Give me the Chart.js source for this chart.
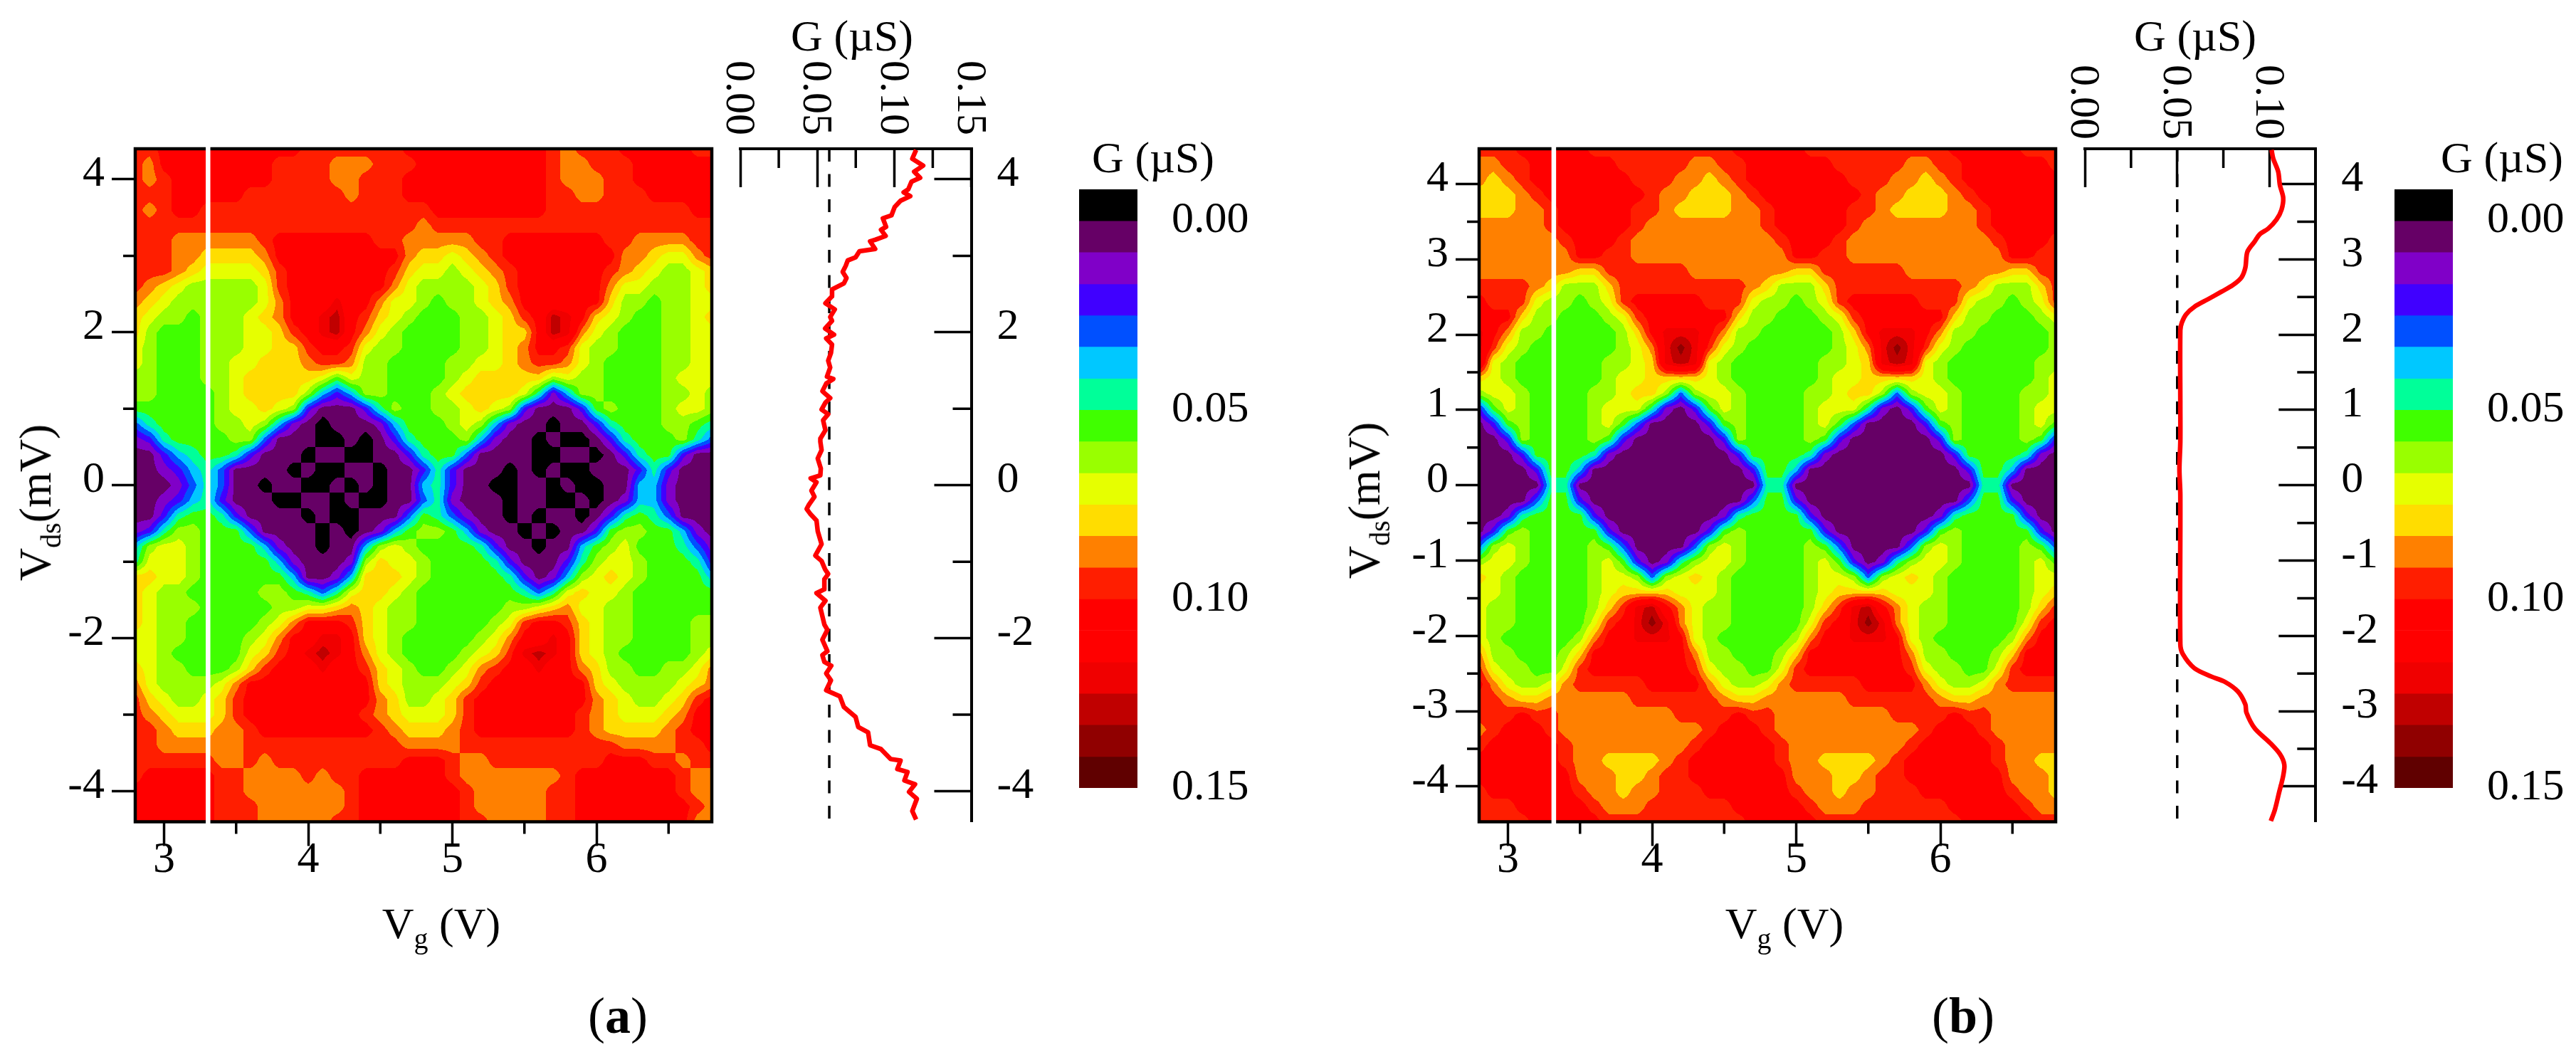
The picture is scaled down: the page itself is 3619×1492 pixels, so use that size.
<!DOCTYPE html>
<html>
<head>
<meta charset="utf-8">
<title>Vds-Vg conductance maps</title>
<script src="https://cdn.jsdelivr.net/npm/chart.js@4/dist/chart.umd.min.js"></script>
<style>
  html, body { margin: 0; padding: 0; background: #fff; }
  #page { position: relative; width: 3619px; height: 1492px; overflow: hidden; }
  canvas { position: absolute; }
  .txt { position: absolute; font-family: "Liberation Serif", serif; font-size: 62px; line-height: 1; white-space: nowrap; color: #000; transform: translateX(-50%); }
  .rot { font-size: 64px; transform: translate(-50%, -50%) rotate(-90deg); }
  .txt sub { font-size: 40px; line-height: 0; vertical-align: -14px; }
  .tag { font-size: 72px; }
</style>
</head>
<body>
<div id="page"></div>
<script>
// conductance level at each node, one char per node, base 36 index into levelColors
// rows run from top (+Vds) to bottom (-Vds), columns from Vg = 2.8 to 6.8 in 0.1 V steps
const measuredRows = [
  "CCDDDDDDDDDDCCCCCCCDDDDDDDDDDCBCCCDDDDDCC",
  "CBDDDDDDDDCCCCBBBCCCDDDDDDDDDCBBCCCDDDDDD",
  "CBCDDDDDDDCCCCBBCCCDDDDDDDDDDCBBBCCDDDDDD",
  "CCCDDDDDCCCCCCCBCCCDDDDDDDDDDCCBBCCCDDDDD",
  "CBCDDCCCCCCCCCCCCCCCCDDDDDDDDCCCCCCCCCCDD",
  "CCCCCCCCCCCCCCCCCCCCBCCCCCCCCCCCCCCCCCCCC",
  "CCCBBBBBBCDDDDDDDCCBBBBBCCDDDDDDDCCBBBBCC",
  "CCCBBAAAABDDDDDDDDDBAA9ABCDDDDDDDDBBA99BC",
  "CCCBA9999ACDDDDDDDCA9989ABCDDDDDDCBA9889A",
  "CBA9888889CDDDDDDDB988889ACDDDDDDB998889A",
  "BA98888889BDDDFDDB9987889ABDDDDDDA8878899",
  "A98878889ABDDFGDCA98777889ACDGFDA9877889A",
  "A877788899ACDFGDB987777889AADGFB987778899",
  "9877788899AACDDC9887777889ABDDC9887778899",
  "987778899AAABCCB8877778899ABCCB9877778899",
  "88777889AAAAA97988777789AAAAA898877778999",
  "88777789AAAA85358877789AAAA96258877778898",
  "777777899A98311136877889A9831113787778998",
  "467777 8898 52 10111 25 777 898 52 11011 36 777 8876",
  "236 7777 88 4 11100101 36 777 852 1101001 36 777 8 64",
  "11356 77 63 1110110011 36774 1111001101 3677 311",
  "11235 64 1111010011011 363 111010100111 363 111",
  "111 2 4 6 4 1101100101011 56 3 110011010011 55 2 111",
  "1123563 1110011010011 46 2 11101100101 2552111",
  "11367 763 11110100111 4764 2 110101101 36764 111",
  "23688 777 4 11110101 25 788 75 2 1101011 3 788 77 521",
  "58998 7777 5 2 11 0 11 5898 7777 63 11011 5789777642",
  "6999877777 52 111 2 8A 99 8 7777 63 111 36 8998 777 63",
  "AA998 777777 5 11 2 5 AAA 98 77777 63 12 58 9A98 7777 5",
  "A988 77777 88 7646 9 AA 98 7777777 646 9A998 777777",
  "A9888 77777 8899 ABA988 777777 889 AB 99 88 777777",
  "A9887 7777 8 9B DDDCA 988 77777 89 C DDC A988 7777 88",
  "99887777 8 9 B DDFFD A98 77777 89 B DDFD A988 7777 88",
  "99877777 9A C DFGFD B98 7777 89AC FGFD A98 77777 89",
  "A9887778 AC DDDFDD CA98 77 89 BC DDFDD B A 88 77 88 9B",
  "B98888 9 B DDDDDDDDD A9 888 9A C DDDDDDD A9 8888 9AB",
  "CA988 9A C DDDDDDDDD BA 88 9A C DDDDDDDD BA9 88 9A CD",
  "CBA999 A C DDDDDDDD C BA 999 A C DDDDDDD C B A 999 AB DD",
  "CCB AAA BB C DDDDDDDD CB AAA BC DDDDDDD CB AAAA BC DD",
  "CC BBBBBB CCCCCCCCCCC BBBB CCCCCCCCCCC BBBB CC D",
  "CCCCCC BB C B CCCCCCCCC DDD C BB CCCCCCCC DDD CC B CC",
  "CDDDDDCC BBBB CBCC DDDDDD C BBBBBBB C DDDDDDD CBB",
  "DDDDDD CC BBBBBBB C DDDDDDD C BBBBB CC DDDDDDD CBB",
  "DDDDDD CCC BBBBBB C DDDDDDD C BBBBB CC DDDDDDDD CB",
  "DDDDDD CCC BBBBB CC DDDDDDD CC BBBB CC DDDDDDDD BB"
];
const modelRows = [
  "CCCDDDD DCCCCCCCCCCDDDD DCCCCCCCCCCDDDD DCCC",
  "BBCCDDD DDDCCCCCBBCCDDD DDDCCCCCBBCCDDD DDDC",
  "BABCDDD DDDDCCCBBABCDDD DDDDCCCBBABCDDD DDDD",
  "AAABCDD DDDDDCBBAAABCDD DDDDDCBBAAABCDD DDDD",
  "AAABBCD DDDDCCBAAAABBCD DDDDCCBAAAABBCD DDDD",
  "BBBBBCD DDDDCBBBBBBBBCD DDDDCBBBBBBBBCD DDDD",
  "BBBBBBC DDDCBBBBBBBBBBC DDDCBBBBBBBBBBC DDDC",
  "BBBBBBB DDCCBBBBBBBBBBB DDCCBBBBBBBBBBB DDCC",
  "BBBBBBB AACCCCCCBBBBBBB AACCCCCCBBBBBBB AACC",
  "CCCCBA8 88ACCCCCCCCCBA8 88ACCCCCCCCCBA8 88AC",
  "DCCC988 789CDDDDDCCC988 789CDDDDDCCC988 789C",
  "DDDA887 7789CDDDDDDA887 7789CDDDDDDA887 7789",
  "FDB8877 7778ADFFFDB8877 7778ADFFFDB8877 7778",
  "FC98777 77789BFHFC98777 77789BFHFC98777 7778",
  "F987777 77889AFGF987777 77889AFGF987777 7788",
  "A987777 77899AAAA987777 77899AAAA987777 7789",
  "8998777 7889AA848998777 7889AA848998777 7889",
  "3798777 789996213798777 789996213798777 7899",
  "1378777 789741111378777 789741111378777 7897",
  "1138777 787311111138777 787311111138777 7873",
  "1113777 762111111113777 762111111113777 7621",
  "1111377 511111111111377 511111111111377 5111",
  "1111166 111111111111166 111111111111166 1111",
  "1111477 311111111111477 311111111111477 3111",
  "1126777 731111111126777 731111111126777 7311",
  "1378777 773111111378777 773111111378777 7731",
  "4898777 787411114898777 787411114898777 7874",
  "8998777 789731268998777 789731268998777 7897",
  "A987777 78998489A987777 78998489A987777 7899",
  "9987777 789AAAA99987777 789AAAA99987777 789A",
  "9887777 78ACFGDB9887777 78ACFGDB9887777 78AC",
  "9887777 79CDFHFB9887777 79CDFHFB9887777 79CD",
  "9877777 8BDDFFFD9877777 8BDDFFFD9877777 8BDD",
  "B887778 ADDDDDDDB887778 ADDDDDDDB887778 ADDD",
  "C988779 CDDDDDDDC988779 CDDDDDDDC988779 CDDD",
  "DB9889B CCCCCDDDDB9889B CCCCCDDDDB9889B CCCC",
  "CCBAABB BBBBCCCCCCBAABB BBBBCCCCCCBAABB BBBB",
  "CCCDCCB BBBBBBBCCCCDCCB BBBBBBBCCCCDCCB BBBB",
  "BCDDDCB BBBBBBBBBCDDDCB BBBBBBBBBCDDDCB BBBB",
  "CDDDDDC BBBBBBBBCDDDDDC BBBBBBBBCDDDDDC BBBB",
  "DDDDDDC BBAAAABCDDDDDDC BBAAAABCDDDDDDC BBAA",
  "DDDDDDD BBBAABCCDDDDDDD BBBAABCCDDDDDDD BBBA",
  "CDDDDDD CBBABBCCCDDDDDD CBBABBCCCDDDDDD CBBA",
  "CCCDDDD DCBBBCCCCCCDDDD DCBBBCCCCCCDDDD DCBB",
  "CCCCDDD DDCCCCCCCCCCDDD DDCCCCCCCCCCDDD DDCC"
];

const levelColors = ["#000000", "#660066", "#8000C8", "#4000FF", "#0050FF", "#00C8FF", "#00FF99", "#40FF00", "#99FF00", "#E6FF00",
  "#FFDD00", "#FF8000", "#FF1E00", "#FF0000", "#FF0000", "#F00000", "#C00000", "#900000", "#600000"];
const levelEdges = [-0.0083, 0, 0.0083, 0.0167, 0.025, 0.0333, 0.0417, 0.05, 0.0583, 0.0667, 0.075, 0.0833, 0.0917, 0.1,
  0.1083, 0.1167, 0.125, 0.1333, 0.1417, 0.15];
const levelTicks = [0, 0.05, 0.1, 0.15];

const vgMajor = [3, 4, 5, 6];
const vgMinor = [3.5, 4.5, 5.5, 6.5];
const vdsMajorA = [-4, -2, 0, 2, 4];
const vdsMinorA = [-3, -1, 1, 3];
const vdsMajorB = [-4, -3, -2, -1, 0, 1, 2, 3, 4];
const vdsMinorB = [-3.5, -2.5, -1.5, -0.5, 0.5, 1.5, 2.5, 3.5];
const gMajorA = [0, 0.05, 0.1, 0.15];
const gMinorA = [0.025, 0.075, 0.125];
const gMajorB = [0, 0.05, 0.1];
const gMinorB = [0.025, 0.075];

// line cuts at the white marker
const vCutA = [4.385, 4.27, 4.18, 4.1, 4.02, 3.97, 3.87, 3.83, 3.78, 3.72, 3.64, 3.53, 3.49, 3.38, 3.34, 3.26, 3.21, 3.19, 3.09, 3.06,
  2.98, 2.94, 2.87, 2.79, 2.71, 2.64, 2.56, 2.47, 2.38, 2.3, 2.2, 2.15, 2.05, 1.97, 1.92, 1.84, 1.73, 1.63, 1.54, 1.42,
  1.39, 1.33, 1.23, 1.14, 1.08, 0.99, 0.93, 0.85, 0.72, 0.61, 0.57, 0.46, 0.35, 0.22, 0.13, 0.09, 0.04, -0.07, -0.15, -0.26,
  -0.31, -0.38, -0.46, -0.6, -0.77, -0.92, -0.99, -1.1, -1.16, -1.23, -1.36, -1.41, -1.51, -1.6, -1.82, -1.89, -2.02, -2.17, -2.22, -2.31,
  -2.36, -2.46, -2.55, -2.68, -2.76, -2.9, -3.03, -3.16, -3.23, -3.4, -3.45, -3.58, -3.6, -3.71, -3.75, -3.86, -3.91, -4.01, -4.1, -4.26, -4.37];
const gCutA = [0.1142, 0.1117, 0.1188, 0.1129, 0.1168, 0.1112, 0.1091, 0.1061, 0.1104, 0.1041, 0.1003, 0.0982, 0.0926, 0.0947, 0.0914, 0.0944, 0.0876, 0.0843, 0.0876, 0.0774,
  0.0749, 0.0698, 0.0685, 0.0665, 0.069, 0.0673, 0.0596, 0.0596, 0.0553, 0.0614, 0.0584, 0.0596, 0.0551, 0.0609, 0.0558, 0.0596, 0.0589, 0.0571, 0.0584, 0.0563,
  0.0604, 0.0558, 0.0533, 0.0584, 0.0553, 0.0528, 0.0571, 0.0538, 0.0553, 0.052, 0.052, 0.0528, 0.0503, 0.0523, 0.052, 0.0457, 0.0495, 0.0462, 0.0482, 0.0444,
  0.0431, 0.0457, 0.0495, 0.0503, 0.0528, 0.0487, 0.0528, 0.0551, 0.0571, 0.0546, 0.0546, 0.0495, 0.0553, 0.052, 0.0546, 0.0566, 0.0533, 0.0566, 0.0533, 0.0546,
  0.0591, 0.0558, 0.0589, 0.0558, 0.0647, 0.0673, 0.0749, 0.0766, 0.083, 0.0843, 0.0914, 0.0977, 0.1041, 0.102, 0.1086, 0.1066, 0.1135, 0.1096, 0.1147, 0.1117, 0.1142];
const vCutB = [4.454, 4.34, 4.165, 3.99, 3.82, 3.66, 3.53, 3.41, 3.335, 3.24, 3.1, 2.89, 2.76, 2.66, 2.57, 2.47, 2.37, 2.27, 2.16, 2.06,
  1.04, 0.58, 0.21, -0.13, -2.11, -2.24, -2.43, -2.54, -2.61, -2.74, -2.91, -3.02, -3.23, -3.42, -3.57, -3.71, -3.86, -4.09, -4.31, -4.46];
const gCutB = [0.1011, 0.102, 0.1047, 0.1056, 0.1074, 0.1065, 0.1038, 0.0993, 0.0947, 0.092, 0.088, 0.0869, 0.0848, 0.0802, 0.0739, 0.0666, 0.0593, 0.0548, 0.0525, 0.0517,
  0.0517, 0.0517, 0.0512, 0.0517, 0.0517, 0.053, 0.0593, 0.0684, 0.0757, 0.0829, 0.0869, 0.0875, 0.092, 0.1002, 0.1056, 0.108, 0.1074, 0.1051, 0.1029, 0.1007];

const SERIF = '"Liberation Serif", serif';
const TICK_FONT = { family: SERIF, size: 62 };
const page = document.getElementById("page");

function addCanvas(left, top, width, height) {
  const c = document.createElement("canvas");
  c.width = width;
  c.height = height;
  c.style.left = left + "px";
  c.style.top = top + "px";
  page.appendChild(c);
  return c.getContext("2d");
}

function addText(html, x, y, cls) {
  const d = document.createElement("div");
  d.className = "txt " + (cls || "");
  d.style.left = x + "px";
  d.style.top = y + "px";
  d.innerHTML = html;
  page.appendChild(d);
}

function hexToRgb(hex) {
  return [parseInt(hex.slice(1, 3), 16), parseInt(hex.slice(3, 5), 16), parseInt(hex.slice(5, 7), 16)];
}

// fills the plot area with contour bands taken from the first dataset, then strokes the frame
const contourFill = {
  id: "contourFill",
  beforeDatasetsDraw(chart, args, opts) {
    const area = chart.chartArea, xs = chart.scales.x, ys = chart.scales.y;
    const pts = chart.data.datasets[0].data;
    const nc = opts.cols, nr = opts.rows;
    const w = Math.ceil(area.right - area.left), h = Math.ceil(area.bottom - area.top);
    const off = document.createElement("canvas");
    off.width = w;
    off.height = h;
    const octx = off.getContext("2d");
    const img = octx.createImageData(w, h);
    const rgb = levelColors.map(hexToRgb);
    for (let py = 0; py < h; py++) {
      const fr = (ys.max - ys.getValueForPixel(area.top + py + 0.5)) / (ys.max - ys.min) * (nr - 1);
      const r0 = Math.min(nr - 2, Math.max(0, Math.floor(fr))), tr = fr - r0;
      for (let px = 0; px < w; px++) {
        const fc = (xs.getValueForPixel(area.left + px + 0.5) - xs.min) / (xs.max - xs.min) * (nc - 1);
        const c0 = Math.min(nc - 2, Math.max(0, Math.floor(fc))), tc = fc - c0;
        const a = pts[r0 * nc + c0].v, b = pts[r0 * nc + c0 + 1].v;
        const c = pts[(r0 + 1) * nc + c0].v, d = pts[(r0 + 1) * nc + c0 + 1].v;
        const lv = (a * (1 - tc) + b * tc) * (1 - tr) + (c * (1 - tc) + d * tc) * tr;
        const col = rgb[Math.max(0, Math.min(18, Math.round(lv)))];
        const i = (py * w + px) * 4;
        img.data[i] = col[0];
        img.data[i + 1] = col[1];
        img.data[i + 2] = col[2];
        img.data[i + 3] = 255;
      }
    }
    octx.putImageData(img, 0, 0);
    const ctx = chart.ctx;
    ctx.save();
    ctx.drawImage(off, area.left, area.top, area.right - area.left, area.bottom - area.top);
    ctx.strokeStyle = "#000";
    ctx.lineWidth = 4.5;
    ctx.strokeRect(area.left, area.top, area.right - area.left, area.bottom - area.top);
    ctx.restore();
  }
};

// the short ticks: Chart.js only has one tick length per scale
const minorTicks = {
  id: "minorTicks",
  afterDraw(chart, args, opts) {
    const ctx = chart.ctx, area = chart.chartArea;
    ctx.save();
    ctx.strokeStyle = "#000";
    ctx.lineWidth = 3.5;
    ctx.beginPath();
    (opts.x || []).forEach(v => {
      const p = chart.scales.x.getPixelForValue(v);
      const edge = opts.xEdge === "top" ? area.top : area.bottom;
      ctx.moveTo(p, edge);
      ctx.lineTo(p, edge + opts.xLen);
    });
    (opts.y || []).forEach(v => {
      const p = chart.scales.y.getPixelForValue(v);
      const edge = opts.yEdge === "right" ? area.right : area.left;
      ctx.moveTo(edge, p);
      ctx.lineTo(edge - opts.yLen, p);
    });
    ctx.stroke();
    ctx.restore();
  }
};

// top axis labels of the cut panels read downwards, Chart.js would run them into the axis
const downLabels = {
  id: "downLabels",
  afterDraw(chart, args, opts) {
    const ctx = chart.ctx, xs = chart.scales.x;
    ctx.save();
    ctx.font = "60px " + SERIF;
    ctx.fillStyle = "#000";
    ctx.textAlign = "right";
    ctx.textBaseline = "middle";
    opts.values.forEach(v => {
      ctx.save();
      ctx.translate(xs.getPixelForValue(v) - 3, opts.end);
      ctx.rotate(Math.PI / 2);
      ctx.fillText(v.toFixed(2), 0, 0);
      ctx.restore();
    });
    ctx.restore();
  }
};

// axis size fixed by hand and no extra room for the outer tick labels, so the plot area lands where it should
function fixedSize(prop, val) {
  return s => {
    s[prop] = val;
    s.paddingTop = s.paddingBottom = s.paddingLeft = s.paddingRight = 0;
  };
}

function setTicks(values) {
  return s => { s.ticks = values.map(v => ({ value: v })); };
}

function drawMap(p) {
  const ctx = addCanvas(p.canvasLeft, 170, p.right + 15 - p.canvasLeft, 1130);
  const rows = p.rows.map(r => r.replace(/\s/g, ""));
  const nc = rows[0].length, nr = rows.length;
  const cells = [];
  rows.forEach((row, r) => {
    for (let c = 0; c < nc; c++) {
      cells.push({
        x: 2.8 + 4 * c / (nc - 1),
        y: p.vMax - 2 * p.vMax * r / (nr - 1),
        v: parseInt(row.charAt(c) || "D", 36)
      });
    }
  });
  new Chart(ctx, {
    type: "scatter",
    data: {
      datasets: [
        { label: "G (µS)", data: cells, pointRadius: 0, pointHoverRadius: 0 },
        {
          label: "cut",
          data: [{ x: p.cutVg, y: p.vMax + 0.06 }, { x: p.cutVg, y: -p.vMax - 0.06 }],
          showLine: true, borderColor: "#fff", borderWidth: 6.5, pointRadius: 0, clip: false
        }
      ]
    },
    plugins: [contourFill, minorTicks],
    options: {
      responsive: false,
      animation: false,
      events: [],
      layout: { padding: { top: 39, right: 15, left: 0, bottom: 0 } },
      plugins: {
        legend: { display: false },
        tooltip: { enabled: false },
        contourFill: { cols: nc, rows: nr },
        minorTicks: { x: vgMinor, xEdge: "bottom", xLen: 17, y: p.vMinor, yEdge: "left", yLen: 17 }
      },
      scales: {
        x: {
          type: "linear", min: 2.8, max: 6.8,
          afterBuildTicks: setTicks(vgMajor),
          afterFit: fixedSize("height", 145.5),
          grid: { drawOnChartArea: false, tickLength: 34, tickWidth: 3.5, tickColor: "#000" },
          border: { display: false },
          ticks: { font: TICK_FONT, color: "#000", padding: -17, maxRotation: 0, minRotation: 0, autoSkip: false, callback: v => String(v) }
        },
        y: {
          type: "linear", min: -p.vMax, max: p.vMax,
          afterBuildTicks: setTicks(p.vMajor),
          afterFit: fixedSize("width", p.left - p.canvasLeft),
          grid: { drawOnChartArea: false, tickLength: 33, tickWidth: 3.5, tickColor: "#000" },
          border: { display: false },
          ticks: { font: TICK_FONT, color: "#000", padding: 10, labelOffset: -7, autoSkip: false, callback: v => String(v) }
        }
      }
    }
  });
}

function drawCut(p) {
  const canvasLeft = p.left - 40, canvasWidth = p.right - canvasLeft + 195;
  const ctx = addCanvas(canvasLeft, 0, Math.ceil(canvasWidth), 1300);
  new Chart(ctx, {
    type: "scatter",
    data: {
      datasets: [
        {
          label: "G", data: p.g.map((g, i) => ({ x: g, y: p.v[i] })),
          showLine: true, borderColor: "#ff0000", borderWidth: 6.5, pointRadius: 0,
          tension: p.tension, borderJoinStyle: "round", clip: false
        },
        {
          label: "mean", data: [{ x: p.dash, y: p.vMax }, { x: p.dash, y: -p.vMax }],
          showLine: true, borderColor: "#000", borderWidth: 3.5, borderDash: [18, 17.5], pointRadius: 0
        }
      ]
    },
    plugins: [minorTicks, downLabels],
    options: {
      responsive: false,
      animation: false,
      events: [],
      layout: { padding: { left: 40, bottom: 145.5 } },
      plugins: {
        legend: { display: false },
        tooltip: { enabled: false },
        minorTicks: { x: p.gMinor, xEdge: "top", xLen: 27, y: p.vMinor, yEdge: "right", yLen: 26 },
        downLabels: { values: p.gMajor, end: p.labelEnd }
      },
      scales: {
        x: {
          type: "linear", position: "top", min: 0, max: p.gMax,
          afterBuildTicks: setTicks(p.gMajor),
          afterFit: fixedSize("height", 209),
          grid: { drawOnChartArea: false, tickLength: -54, tickWidth: 3.5, tickColor: "#000" },
          border: { display: true, color: "#000", width: 4 },
          ticks: { display: false }
        },
        y: {
          type: "linear", position: "right", min: -p.vMax, max: p.vMax,
          afterBuildTicks: setTicks(p.vMajor),
          afterFit: fixedSize("width", Math.ceil(canvasWidth) - (p.right - canvasLeft)),
          grid: { drawOnChartArea: false, tickLength: -52, tickWidth: 3.5, tickColor: "#000" },
          border: { display: true, color: "#000", width: 4 },
          ticks: { font: TICK_FONT, color: "#000", padding: 88, labelOffset: -7, autoSkip: false, callback: v => String(v) }
        }
      }
    }
  });
}

function drawBar(left) {
  const ctx = addCanvas(left, 220, 260, 930);
  new Chart(ctx, {
    type: "bar",
    data: {
      labels: ["G"],
      datasets: levelColors.map((c, i) => ({
        label: "level " + i,
        data: [[levelEdges[i], levelEdges[i + 1]]],
        backgroundColor: c,
        borderWidth: 0,
        barPercentage: 1,
        categoryPercentage: 1
      }))
    },
    options: {
      responsive: false,
      animation: false,
      events: [],
      layout: { padding: { top: 46, bottom: 43 } },
      plugins: { legend: { display: false }, tooltip: { enabled: false } },
      scales: {
        x: { stacked: true, display: false },
        y: {
          type: "linear", position: "right", reverse: true, min: levelEdges[0], max: levelEdges[19],
          afterBuildTicks: setTicks(levelTicks),
          afterFit: fixedSize("width", 178),
          grid: { display: false },
          border: { display: false },
          ticks: { font: TICK_FONT, color: "#000", padding: 40, autoSkip: false, callback: v => v.toFixed(2) }
        }
      }
    }
  });
}

drawMap({ rows: measuredRows, canvasLeft: 0, left: 190, right: 1000, vMax: 4.4, cutVg: 3.305, vMajor: vdsMajorA, vMinor: vdsMinorA });
drawMap({ rows: modelRows, canvasLeft: 1888, left: 2078, right: 2888, vMax: 4.47, cutVg: 3.318, vMajor: vdsMajorB, vMinor: vdsMinorB });
drawCut({ left: 1040, right: 1364.5, gMax: 0.15, vMax: 4.4, g: gCutA, v: vCutA, tension: 0, dash: 0.0578, gMajor: gMajorA, gMinor: gMinorA, vMajor: vdsMajorA, vMinor: vdsMinorA, labelEnd: 190 });
drawCut({ left: 2928.5, right: 3252.8, gMax: 0.125, vMax: 4.47, g: gCutB, v: vCutB, tension: 0.3, dash: 0.05, gMajor: gMajorB, gMinor: gMinorB, vMajor: vdsMajorB, vMinor: vdsMinorB, labelEnd: 196 });
drawBar(1516);
drawBar(3364);

addText("G (µS)", 1197, 19);
addText("G (µS)", 3084, 19);
addText("G (µS)", 1620, 190);
addText("G (µS)", 3515, 190);
addText("V<sub>g</sub> (V)", 620, 1266);
addText("V<sub>g</sub> (V)", 2507, 1266);
addText("V<sub>ds</sub>(mV)", 50, 706, "rot");
addText("V<sub>ds</sub>(mV)", 1917, 703, "rot");
addText("(<b>a</b>)", 868, 1391, "tag");
addText("(<b>b</b>)", 2758, 1391, "tag");
</script>
</body>
</html>
